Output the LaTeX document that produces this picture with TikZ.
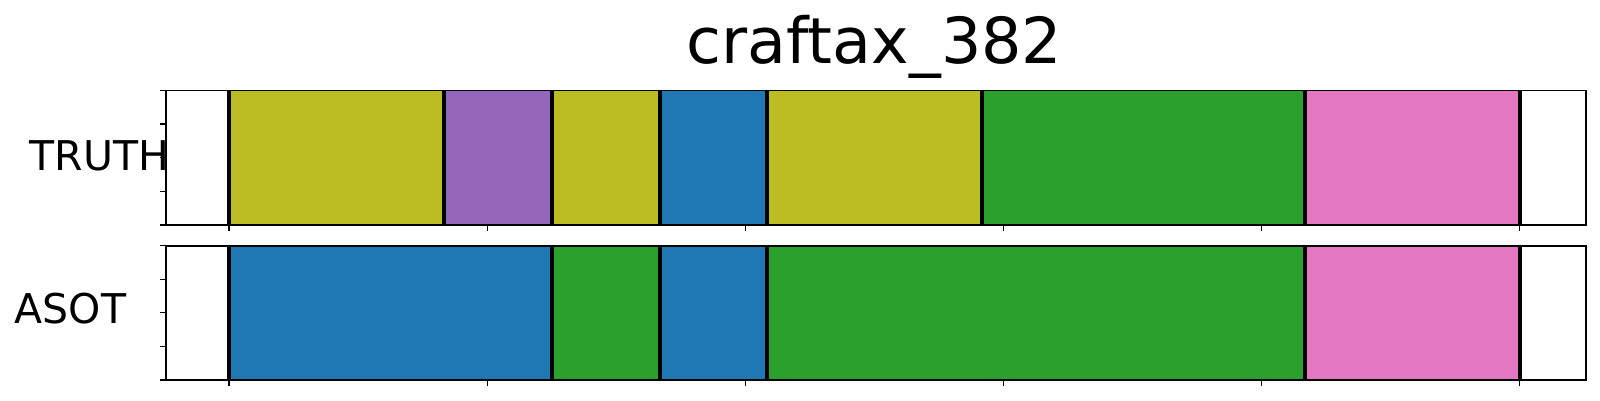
\documentclass[tikz,border=0pt]{standalone}
\usepackage{fontspec}
\setmainfont{DejaVu Sans}
\definecolor{tolive}{HTML}{BCBD22}
\definecolor{tpurple}{HTML}{9467BD}
\definecolor{tblue}{HTML}{1F77B4}
\definecolor{tgreen}{HTML}{2CA02C}
\definecolor{tpink}{HTML}{E377C2}
\tikzset{
  seg/.style={draw=none},
  sep/.style={line width=4pt, black},
  frame/.style={line width=1.6pt, black},
  tick/.style={line width=1.2pt, black},
  lbl/.style={inner sep=0pt, font=\fontsize{41}{41}\selectfont},
  ttl/.style={inner sep=0pt, font=\fontsize{63.5}{63.5}\selectfont}
}
\begin{document}
\begin{tikzpicture}[x=1pt, y=-1pt]
\useasboundingbox (0,0) rectangle (1600,400);
% TRUTH segments
\fill[tolive]  (229,90.3) rectangle (443.7,225);
\fill[tpurple] (443.7,90.3) rectangle (551.7,225);
\fill[tolive]  (551.7,90.3) rectangle (659.7,225);
\fill[tblue]   (659.7,90.3) rectangle (766.7,225);
\fill[tolive]  (766.7,90.3) rectangle (981.7,225);
\fill[tgreen]  (981.7,90.3) rectangle (1305,225);
\fill[tpink]   (1305,90.3) rectangle (1519.5,225);
\foreach \x in {229,443.7,551.7,659.7,766.7,981.7,1305,1519.5}
  \draw[sep] (\x,90.3) -- (\x,225);
% ASOT segments
\fill[tblue]  (229,245.7) rectangle (551.7,380);
\fill[tgreen] (551.7,245.7) rectangle (659.7,380);
\fill[tblue]  (659.7,245.7) rectangle (766.7,380);
\fill[tgreen] (766.7,245.7) rectangle (1305,380);
\fill[tpink]  (1305,245.7) rectangle (1519.5,380);
\foreach \x in {229,551.7,659.7,766.7,1305,1519.5}
  \draw[sep] (\x,245.7) -- (\x,380);
% frames
\draw[frame] (165.7,90.3) rectangle (1586,225);
\draw[frame] (165.7,245.7) rectangle (1586,380);
% ticks
\foreach \k in {0,...,5} {
  \draw[tick] ({229+\k*258.1},225) -- ++(0,5.5);
  \draw[tick] ({229+\k*258.1},380) -- ++(0,5.5);
}
\foreach \k in {0,...,4} {
  \draw[tick] (165.7,{90.3+\k*33.675}) -- ++(-6,0);
  \draw[tick] (165.7,{245.7+\k*33.575}) -- ++(-6,0);
}
% labels
\node[ttl, anchor=base] (title) at (874.5,63.3) {craftax\_382};
\node[lbl, anchor=base west] (truth) at (29.3,170) {TRUTH};
\node[lbl, anchor=base west] (asot) at (14.6,323.3) {ASOT};
\end{tikzpicture}
\end{document}
